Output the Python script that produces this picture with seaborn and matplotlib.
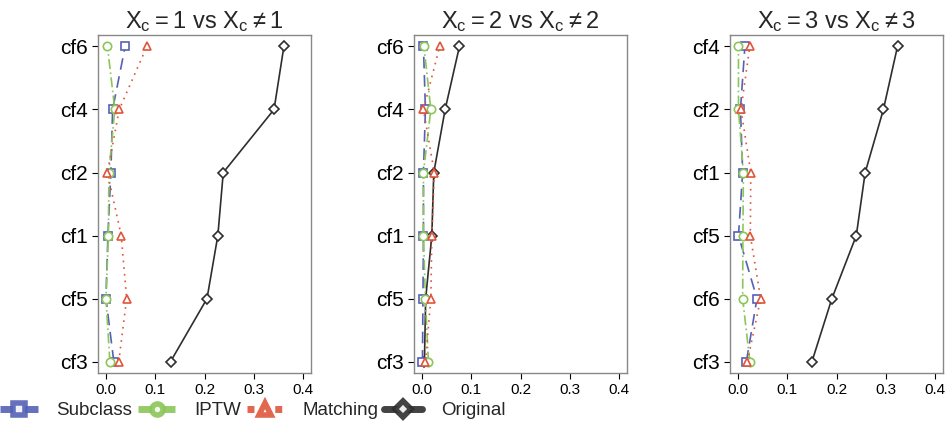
import matplotlib
matplotlib.use("Agg")
from matplotlib import pyplot as plt
from matplotlib.lines import Line2D
import numpy as np
import pandas as pd
import seaborn as sns

# covariate order per panel, bottom -> top
cats_1 = ["cf3", "cf5", "cf1", "cf2", "cf4", "cf6"]
cats_2 = ["cf3", "cf5", "cf1", "cf2", "cf4", "cf6"]
cats_3 = ["cf3", "cf6", "cf5", "cf1", "cf2", "cf4"]

# absolute standardized mean differences
subclass_1 = [0.016, 0.000, 0.004, 0.010, 0.0135, 0.039]
iptw_1 = [0.008, 0.000, 0.005, 0.006, 0.018, 0.003]
matching_1 = [0.026, 0.042, 0.031, 0.003, 0.027, 0.083]
original_1 = [0.131, 0.205, 0.227, 0.238, 0.341, 0.361]

subclass_2 = [0.001, 0.002, 0.003, 0.003, 0.007, 0.003]
iptw_2 = [0.013, 0.007, 0.003, 0.003, 0.018, 0.004]
matching_2 = [0.007, 0.018, 0.020, 0.025, 0.003, 0.036]
original_2 = [0.005, 0.0075, 0.020, 0.024, 0.047, 0.076]

subclass_3 = [0.017, 0.0385, 0.001, 0.0095, 0.005, 0.014]
iptw_3 = [0.024, 0.0095, 0.010, 0.011, 0.001, 0.001]
matching_3 = [0.019, 0.046, 0.025, 0.026, 0.006, 0.024]
original_3 = [0.150, 0.1905, 0.240, 0.258, 0.295, 0.3236]

titles = [r"$X_c = 1$ vs $X_c \neq 1$",
          r"$X_c = 2$ vs $X_c \neq 2$",
          r"$X_c = 3$ vs $X_c \neq 3$"]

methods = ["Subclass", "IPTW", "Matching", "Original"]
colors = {"Subclass": "#5661b5", "IPTW": "#8cc65a",
          "Matching": "#e0553b", "Original": "#2e2e2e"}
styles = {"Subclass": (0, (7, 4)), "IPTW": (0, (6, 2, 1, 2)),
          "Matching": (0, (1, 3)), "Original": "-"}
marks = {"Subclass": "s", "IPTW": "o", "Matching": "^", "Original": "D"}

panels = [
    (cats_1, {"Subclass": subclass_1, "IPTW": iptw_1, "Matching": matching_1, "Original": original_1}),
    (cats_2, {"Subclass": subclass_2, "IPTW": iptw_2, "Matching": matching_2, "Original": original_2}),
    (cats_3, {"Subclass": subclass_3, "IPTW": iptw_3, "Matching": matching_3, "Original": original_3}),
]

sns.set_theme(style="ticks")
plt.rcParams["font.family"] = ["Liberation Sans", "DejaVu Sans"]
plt.rcParams["mathtext.fontset"] = "custom"
plt.rcParams["mathtext.rm"] = "Liberation Sans"
plt.rcParams["mathtext.default"] = "regular"

fig, axes = plt.subplots(1, 3, figsize=(9.52, 4.28), dpi=100)
fig.subplots_adjust(left=0.103, right=0.9906, bottom=0.1285, top=0.918, wspace=0.484)

for ax, (cats, vals), title in zip(axes, panels, titles):
    pos = np.arange(len(cats))
    for m in methods:
        df = pd.DataFrame({"asmd": vals[m], "pos": pos})
        sns.lineplot(data=df, x="asmd", y="pos", orient="y", sort=False,
                     estimator=None, ax=ax, color=colors[m],
                     linestyle=styles[m], linewidth=1.2,
                     marker=marks[m], markersize=6 if m != "Original" else 5.5,
                     markerfacecolor="white", markeredgecolor=colors[m],
                     markeredgewidth=1.2, zorder=3 if m == "Original" else 4)
    ax.set_yticks(pos)
    ax.set_yticklabels(cats, fontsize=15)
    ax.set_xlim(-0.016, 0.416)
    ax.set_ylim(-0.18, 5.18)
    ax.set_xticks([0.0, 0.1, 0.2, 0.3, 0.4])
    ax.set_xticklabels(["0.0", "0.1", "0.2", "0.3", "0.4"], fontsize=11)
    ax.set_xlabel("")
    ax.set_ylabel("")
    ax.set_title(title, fontsize=17, pad=5)
    for s in ax.spines.values():
        s.set_visible(True)
        s.set_color("#888888")
        s.set_linewidth(1.0)
    ax.tick_params(axis="both", colors="black", length=4, width=0.8)

handles = [Line2D([0], [0], color=colors[m], linestyle=styles[m], linewidth=5,
                  marker=marks[m], markersize=8, markerfacecolor="white",
                  markeredgecolor=colors[m], markeredgewidth=4, alpha=0.9)
           for m in methods]
fig.legend(handles, methods, loc="center left", bbox_to_anchor=(0.0, 0.04),
           ncol=4, frameon=False, fontsize=13.5, handlelength=2.0,
           handletextpad=1.0, columnspacing=0.3, borderaxespad=0, borderpad=0)

fig.savefig("out.png", dpi=100)
